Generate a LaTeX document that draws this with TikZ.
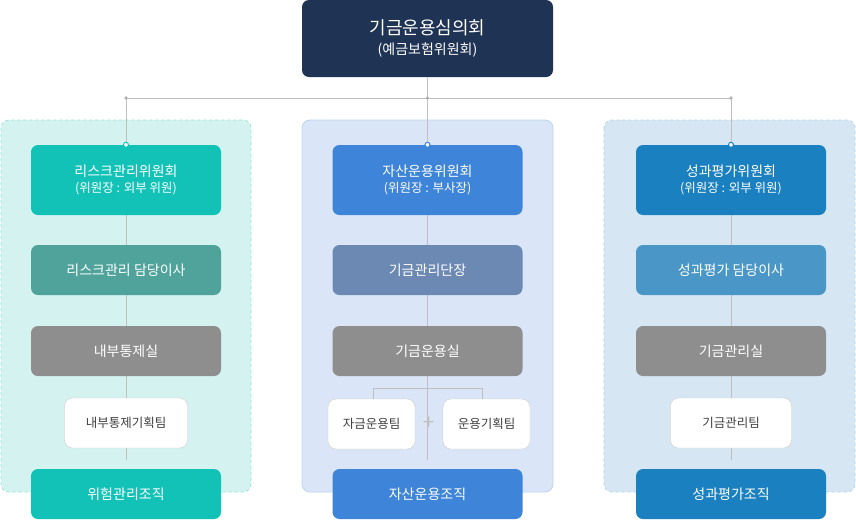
\documentclass[tikz,border=0pt]{standalone}
\usepackage{fontspec}
\setmainfont{Noto Sans CJK KR}
\begin{document}
\begin{tikzpicture}[x=1pt,y=-1pt,
  box/.style={rounded corners=7pt,minimum width=190pt,minimum height=50pt,text=white,inner sep=0pt,align=center,font=\fontsize{14}{17}\selectfont},
  wbox/.style={rounded corners=8pt,fill=white,draw=black!20,minimum height=50pt,inner sep=0pt,text=black!75,font=\fontsize{12.5}{15}\selectfont},
  ln/.style={draw=black!25,line width=0.8pt},
  dot/.style={circle,fill=white,draw=#1,line width=1pt,inner sep=0pt,minimum size=5pt},
  panel/.style={rounded corners=8pt,line width=0.8pt}]
\useasboundingbox (0,0) rectangle (856,520);
\definecolor{navy}{HTML}{1F3354}
\definecolor{tealc}{HTML}{13C2B6}
\definecolor{tealb}{HTML}{4FA39B}
\definecolor{blu}{HTML}{3E84D8}
\definecolor{blub}{HTML}{6C89B4}
\definecolor{dblu}{HTML}{1A80BF}
\definecolor{dblub}{HTML}{4A97C7}
\definecolor{gry}{HTML}{8E8E8E}
\definecolor{p1}{HTML}{D3F2F0}
\definecolor{p2}{HTML}{DAE6F7}
\definecolor{p3}{HTML}{D6E7F3}
% panels
\draw[panel,fill=p1,draw=tealc!45,dashed] (1,120) rectangle (251,492);
\draw[panel,fill=p2,draw=blu!35] (302,120) rectangle (553,492);
\draw[panel,fill=p3,draw=dblu!35,dashed] (604,120) rectangle (855,492);
% top
\node[box,fill=navy,minimum width=251pt,minimum height=77pt,font=\fontsize{18}{22}\selectfont] (top) at (427.5,38.5) {기금운용심의회\\[-2pt]{\fontsize{14}{17}\selectfont(예금보험위원회)}};
\coordinate (hl) at (126,98); \coordinate (hm) at (427.5,98); \coordinate (hr) at (731,98);
% columns
\foreach \cx/\n/\ca/\cb/\t/\s/\u/\w/\bt in {126/l/tealc/tealb/리스크관리위원회/위원장 : 외부 위원/리스크관리 담당이사/내부통제실/위험관리조직,
  427.5/m/blu/blub/자산운용위원회/위원장 : 부사장/기금관리단장/기금운용실/자산운용조직,
  731/r/dblu/dblub/성과평가위원회/위원장 : 외부 위원/성과평가 담당이사/기금관리실/성과평가조직}{
  \draw[ln] (\cx,98) -- (\cx,460);
  \node[box,fill=\ca,minimum height=70pt] (\n1) at (\cx,180) {\t\\[-1pt]{\fontsize{12.5}{15}\selectfont(\s)}};
  \node[box,fill=\cb] (\n2) at (\cx,270) {\u};
  \node[box,fill=gry] (\n3) at (\cx,351) {\w};
  \node[box,fill=\ca] (\n5) at (\cx,494) {\bt};
  \node[dot=\ca] at (\n1.north) {};
}
\draw[ln] (top.south) -- (hm);
\draw[ln] (hl) -- (hr);
\foreach \p in {hl,hm,hr} \fill[black!30] (\p) circle (1.8pt);
\node[wbox,minimum width=123pt] (l4) at (126,423) {내부통제기획팀};
\node[wbox,minimum width=121pt] (r4) at (731,423) {기금관리팀};
\draw[ln] (373,399) -- (373,388) -- (482,388) -- (482,399);
\node[wbox,minimum width=87pt] (m4a) at (371.5,424) {자금운용팀};
\node[wbox,minimum width=87pt] (m4b) at (486.5,424) {운용기획팀};
\node[text=black!25,font=\fontsize{20}{20}\selectfont] at (429,423) {+};
\end{tikzpicture}
\end{document}
